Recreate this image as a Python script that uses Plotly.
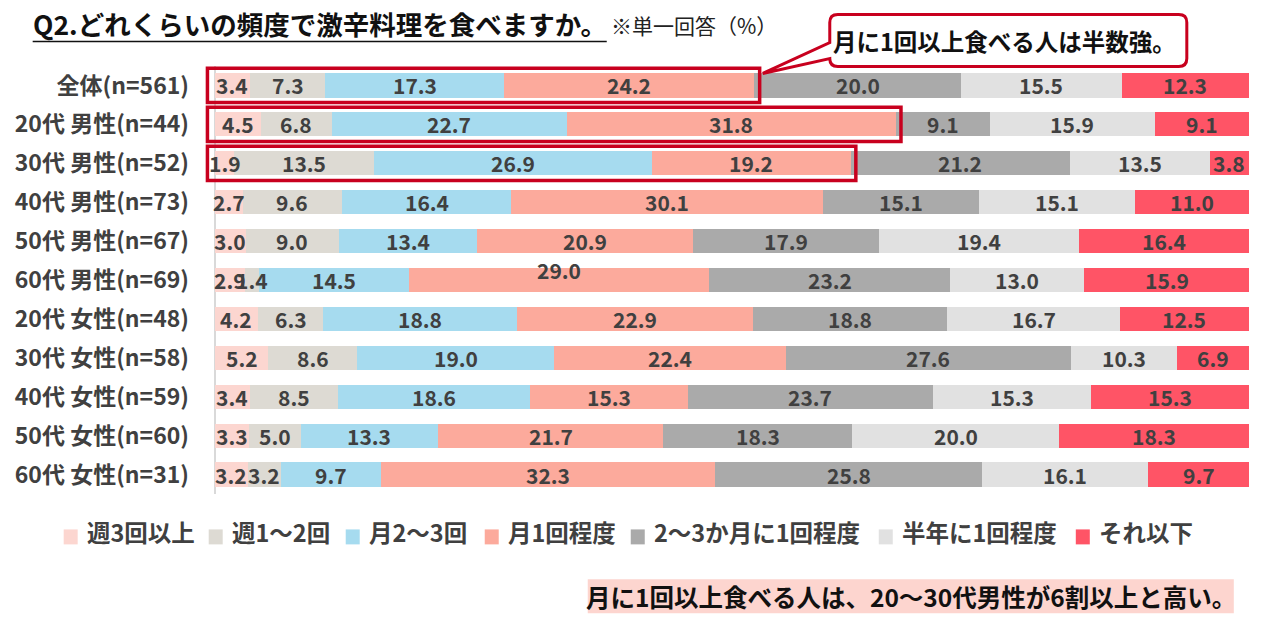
import plotly.graph_objects as go

# rows (top to bottom)
categories = ["全体(n=561)", "20代 男性(n=44)", "30代 男性(n=52)",
              "40代 男性(n=73)", "50代 男性(n=67)", "60代 男性(n=69)",
              "20代 女性(n=48)", "30代 女性(n=58)", "40代 女性(n=59)",
              "50代 女性(n=60)", "60代 女性(n=31)"]

series_names = ["週3回以上", "週1～2回", "月2～3回", "月1回程度",
                "2～3か月に1回程度", "半年に1回程度", "それ以下"]

week3 = [3.4, 4.5, 1.9, 2.7, 3.0, 2.9, 4.2, 5.2, 3.4, 3.3, 3.2]
week12 = [7.3, 6.8, 13.5, 9.6, 9.0, 1.4, 6.3, 8.6, 8.5, 5.0, 3.2]
month23 = [17.3, 22.7, 26.9, 16.4, 13.4, 14.5, 18.8, 19.0, 18.6, 13.3, 9.7]
month1 = [24.2, 31.8, 19.2, 30.1, 20.9, 29.0, 22.9, 22.4, 15.3, 21.7, 32.3]
months23 = [20.0, 9.1, 21.2, 15.1, 17.9, 23.2, 18.8, 27.6, 23.7, 18.3, 25.8]
halfyear = [15.5, 15.9, 13.5, 15.1, 19.4, 13.0, 16.7, 10.3, 15.3, 20.0, 16.1]
less = [12.3, 9.1, 3.8, 11.0, 16.4, 15.9, 12.5, 6.9, 15.3, 18.3, 9.7]

series_values = [week3, week12, month23, month1, months23, halfyear, less]
colors = ["#FCD6D0", "#DDDAD3", "#A6DBEF", "#FCAA9C", "#AAAAAA",
          "#E1E1E1", "#FF5466"]

highlight_rows = [0, 1, 2]  # boxed rows (月1回以上 = first four series)

title_text = "Q2.どれくらいの頻度で激辛料理を食べますか。"
note_text = "※単一回答（%）"
callout_text = "月に1回以上食べる人は半数強。"
summary_text = "月に1回以上食べる人は、20～30代男性が6割以上と高い。"

FONT = "Noto Sans CJK JP"
TXT = "#404040"
RED = "#C8001E"

# page body adds 8px around the figure
OFF = 8
W, H = 1263, 628
X_MIN, X_MAX = -2.0, 100.6
PW = (X_MAX - X_MIN) * 10.34
PH = 429.0
ML = 194.3 - OFF
MT = 65.5 - OFF
MR = W - ML - PW
MB = H - MT - PH


def px(x):
    return (x - OFF - ML) / PW


def py(y):
    return 1 - (y - OFF - MT) / PH


fig = go.Figure()
for name, vals, col in zip(series_names, series_values, colors):
    fig.add_trace(go.Bar(y=categories, x=vals, orientation="h", name=name,
                         marker_color=col, marker_line_width=0,
                         hoverinfo="name+x", showlegend=False))

# segment labels, centred in each (normalised) segment
annotations = []
for i, cat in enumerate(categories):
    row = [s[i] for s in series_values]
    total = sum(row)
    left = 0.0
    for j, v in enumerate(row):
        w = v / total * 100
        shift = 10 if (i == 5 and j == 3) else 0
        annotations.append(dict(x=left + w / 2, y=cat, xref="x", yref="y",
                                text="<b>%.1f</b>" % v, showarrow=False,
                                yshift=shift,
                                font=dict(family=FONT, size=21, color=TXT)))
        left += w

shapes = []
for i in highlight_rows:
    row = [s[i] for s in series_values]
    total = sum(row)
    first4 = sum(row[:4]) / total * 100
    shapes.append(dict(type="rect", xref="x", yref="y",
                       x0=-0.7, x1=first4 + 0.5, y0=i - 0.44, y1=i + 0.44,
                       line=dict(color=RED, width=3.5), layer="above"))

# speech bubble
pts = ("M {a},{b} L {c},{b} Q {d},{b} {d},{e} L {d},{f} Q {d},{g} {c},{g} "
       "L {a},{g} Q {h},{g} {h},{f} L {tx},{ty} L {h},{k} L {h},{e} "
       "Q {h},{b} {a},{b} Z")
path = pts.format(a=px(838), b=py(14), c=px(1179), d=px(1187), e=py(22),
                  f=py(58), g=py(66), h=px(830), tx=px(763), ty=py(73),
                  k=py(42))
shapes.append(dict(type="path", xref="paper", yref="paper", path=path,
                   fillcolor="white", line=dict(color=RED, width=3),
                   layer="above"))
# title underline
shapes.append(dict(type="line", xref="paper", yref="paper",
                   x0=px(33), x1=px(607), y0=py(41), y1=py(41),
                   line=dict(color="#111111", width=1.5)))
# summary box
shapes.append(dict(type="rect", xref="paper", yref="paper",
                   x0=px(588), x1=px(1234), y0=py(580), y1=py(614),
                   fillcolor="#FDD5CF", line_width=0, layer="below"))

# legend drawn by hand to match the compact spacing
legend_left = [64, 209, 346, 485, 631, 879, 1076]
for name, col, lx in zip(series_names, colors, legend_left):
    shapes.append(dict(type="rect", xref="paper", yref="paper",
                       x0=px(lx), x1=px(lx + 14), y0=py(530), y1=py(545),
                       fillcolor=col, line_width=0))
    annotations.append(dict(x=px(lx + 21), y=py(533), xref="paper",
                            yref="paper", xanchor="left", yanchor="middle",
                            showarrow=False, text="<b>" + name + "</b>",
                            font=dict(family=FONT, size=23.5, color=TXT)))

annotations += [
    dict(x=px(31), y=py(23), xref="paper", yref="paper", xanchor="left",
         yanchor="middle", showarrow=False, text="<b>" + title_text + "</b>",
         font=dict(family=FONT, size=26.5, color="#111111")),
    dict(x=px(609), y=py(24), xref="paper", yref="paper", xanchor="left",
         yanchor="middle", showarrow=False, text=note_text,
         font=dict(family=FONT, size=21, color="#222222")),
    dict(x=px(1005), y=py(40), xref="paper", yref="paper", xanchor="center",
         yanchor="middle", showarrow=False, text="<b>" + callout_text + "</b>",
         font=dict(family=FONT, size=23.5, color="#111111")),
    dict(x=px(911), y=py(597), xref="paper", yref="paper", xanchor="center",
         yanchor="middle", showarrow=False, text="<b>" + summary_text + "</b>",
         font=dict(family=FONT, size=24.5, color="#111111")),
]

fig.update_layout(
    width=W, height=H,
    margin=dict(l=ML, r=MR, t=MT, b=MB, autoexpand=False),
    barmode="stack", barnorm="percent", bargap=0.38,
    plot_bgcolor="white", paper_bgcolor="white",
    font=dict(family=FONT, color=TXT),
    xaxis=dict(range=[X_MIN, X_MAX], showgrid=False, showticklabels=False,
               zeroline=True, zerolinecolor="#D9D9D9", zerolinewidth=2,
               fixedrange=True),
    yaxis=dict(autorange="reversed", showgrid=False, ticks="",
               ticklabelstandoff=4, fixedrange=True,
               tickfont=dict(family=FONT, size=23, color=TXT),
               tickvals=categories,
               ticktext=["<b>" + c + "</b>" for c in categories]),
    showlegend=False,
    annotations=annotations,
    shapes=shapes,
)

fig.write_html("out.html")
